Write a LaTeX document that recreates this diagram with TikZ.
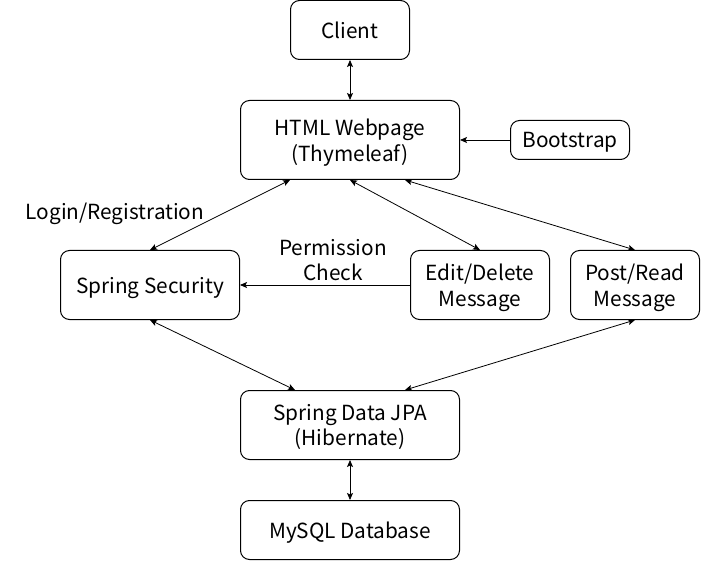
\documentclass[tikz,border=0pt]{standalone}
\usepackage{fontspec}
\setmainfont{Noto Sans CJK SC}
\usetikzlibrary{arrows.meta}
\begin{document}
\begin{tikzpicture}[x=1pt,y=-1pt,
  box/.style={draw,line width=1pt,rounded corners=9pt,align=center,inner sep=0pt,text depth=0pt,font=\fontsize{20.8}{25.5}\selectfont},
  lbl/.style={align=center,inner sep=0pt,text depth=0pt,font=\fontsize{20.8}{25.5}\selectfont},
  conn/.style={line width=0.8pt,{Stealth[length=7pt,width=6pt,inset=1.5pt]}-{Stealth[length=7pt,width=6pt,inset=1.5pt]}},
  oneway/.style={line width=0.8pt,-{Stealth[length=7pt,width=6pt,inset=1.5pt]}}]
\useasboundingbox (0,0) rectangle (701,561);
\node[box,minimum width=119pt,minimum height=59pt] (client) at (350,30) {Client};
\node[box,minimum width=219pt,minimum height=79pt] (html) at (350,140) {HTML Webpage\\(Thymeleaf)};
\node[box,minimum width=119pt,minimum height=39pt] (boot) at (570,140) {Bootstrap};
\node[box,minimum width=179pt,minimum height=69pt] (sec) at (150,285) {Spring Security};
\node[box,minimum width=139pt,minimum height=69pt] (edit) at (480,285) {Edit/Delete\\Message};
\node[box,minimum width=129pt,minimum height=69pt] (post) at (635,285) {Post/Read\\Message};
\node[box,minimum width=219pt,minimum height=69pt] (jpa) at (350,425) {Spring Data JPA\\(Hibernate)};
\node[box,minimum width=219pt,minimum height=59pt] (db) at (350,530) {MySQL Database};
\node[lbl] (login) at (115,211) {Login/Registration};
\node[lbl] (perm) at (333,260) {Permission\\Check};
\draw[conn] ([xshift=-60pt]html.south) -- (sec.north);
\draw[conn] (client.south) -- (html.north);
\draw[oneway] (boot.west) -- (html.east);
\draw[conn] (html.south) -- (edit.north);
\draw[conn] ([xshift=55pt]html.south) -- (post.north);
\draw[oneway] (edit.west) -- (sec.east);
\draw[conn] (sec.south) -- ([xshift=-55pt]jpa.north);
\draw[conn] (post.south) -- ([xshift=55pt]jpa.north);
\draw[conn] (jpa.south) -- (db.north);
\end{tikzpicture}
\end{document}
